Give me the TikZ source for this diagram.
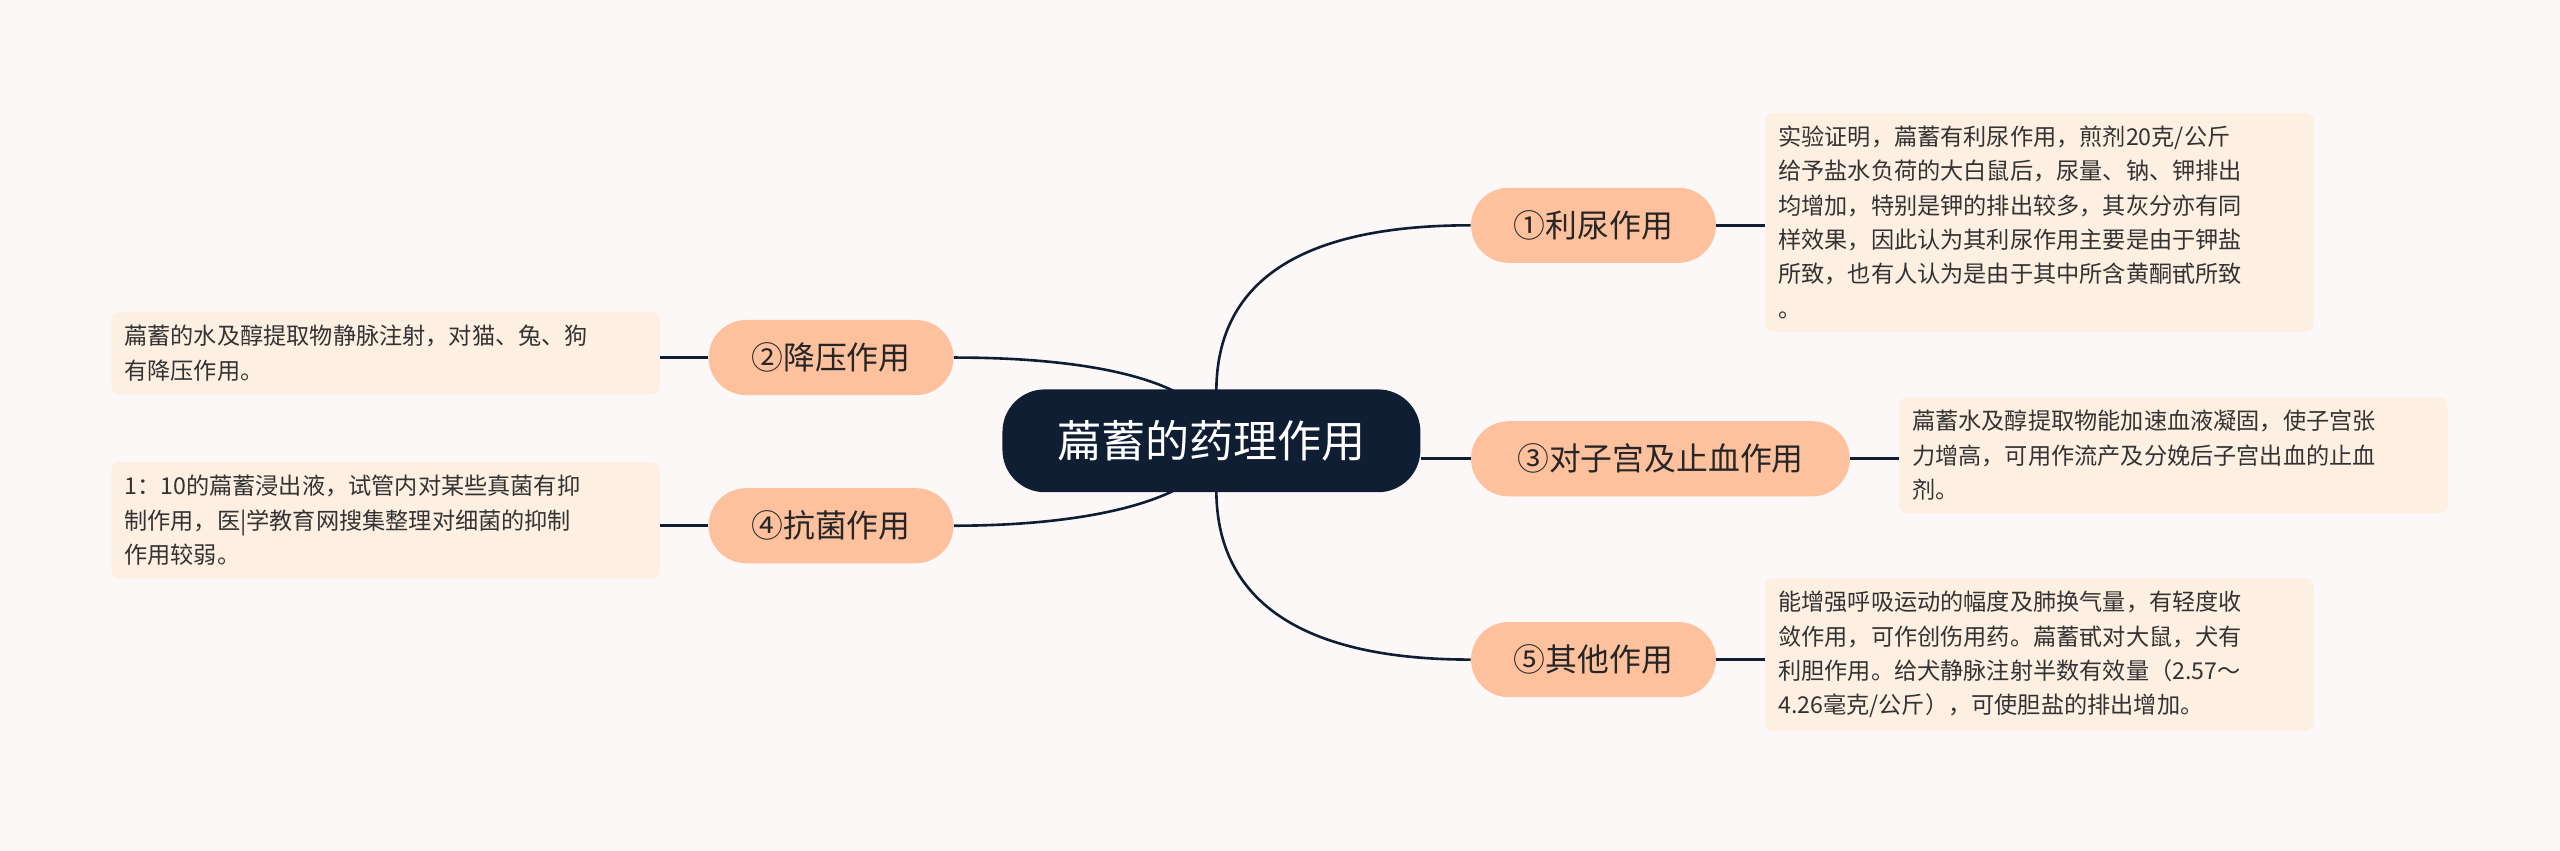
\documentclass[tikz,border=0pt]{standalone}
\usepackage{fontspec}
\setmainfont{Noto Sans CJK SC}
\begin{document}
\begin{tikzpicture}[x=1pt,y=-1pt,
  br/.style={fill=peach,rounded corners=23pt,minimum height=46pt,font=\fontsize{19.5}{22}\selectfont,text=black!85,inner xsep=8pt},
  leaf/.style={fill=leafc,rounded corners=5pt,anchor=north west,align=left,inner sep=8pt,font=\fontsize{14.2}{21}\selectfont,text=black!80},
  con/.style={draw=navy,line width=1.6pt}]
\definecolor{bg}{HTML}{FCF8F7}
\definecolor{navy}{HTML}{0F1E33}
\definecolor{peach}{HTML}{FDC19E}
\definecolor{leafc}{HTML}{FDF0E2}
\fill[bg] (0,0) rectangle (1568,521);
\node[fill=navy,rounded corners=26pt,minimum width=256pt,minimum height=63pt,text=white,font=\fontsize{27}{30}\selectfont] (c) at (742,270) {萹蓄的药理作用};
\node[br,minimum width=150pt] (b1) at (976,138) {①利尿作用};
\node[br,minimum width=150pt] (b2) at (509,219) {②降压作用};
\node[br,minimum width=232pt] (b3) at (1017,281) {③对子宫及止血作用};
\node[br,minimum width=150pt] (b4) at (509,322) {④抗菌作用};
\node[br,minimum width=150pt] (b5) at (976,404) {⑤其他作用};
\node[leaf,text width=320pt] (l1) at (1081,69) {实验证明，萹蓄有利尿作用，煎剂20克/公斤\\给予盐水负荷的大白鼠后，尿量、钠、钾排出\\均增加，特别是钾的排出较多，其灰分亦有同\\样效果，因此认为其利尿作用主要是由于钾盐\\所致，也有人认为是由于其中所含黄酮甙所致\\。};
\node[leaf,text width=320pt] (l2) at (68,191) {萹蓄的水及醇提取物静脉注射，对猫、兔、狗\\有降压作用。};
\node[leaf,text width=320pt] (l3) at (1163,243) {萹蓄水及醇提取物能加速血液凝固，使子宫张\\力增高，可用作流产及分娩后子宫出血的止血\\剂。};
\node[leaf,text width=320pt] (l4) at (68,283) {1：10的萹蓄浸出液，试管内对某些真菌有抑\\制作用，医|学教育网搜集整理对细菌的抑制\\作用较弱。};
\node[leaf,text width=320pt] (l5) at (1081,354) {能增强呼吸运动的幅度及肺换气量，有轻度收\\敛作用，可作创伤用药。萹蓄甙对大鼠，犬有\\利胆作用。给犬静脉注射半数有效量（2.57～\\4.26毫克/公斤），可使胆盐的排出增加。};
\coordinate (cr) at (745,240);
\coordinate (cr2) at (745,300);
\coordinate (cl) at (720,240);
\coordinate (cl2) at (720,300);
\draw[con] (cr) .. controls (745,170) and (800,138) .. (b1.west);
\draw[con] (c.east|-b3.west) -- (b3.west);
\draw[con] (cr2) .. controls (745,370) and (800,404) .. (b5.west);
\draw[con] (cl) .. controls (690,225) and (640,219) .. (b2.east);
\draw[con] (cl2) .. controls (690,315) and (640,322) .. (b4.east);
\draw[con] (b1.east) -- (l1.west|-b1.east);
\draw[con] (b3.east) -- (l3.west|-b3.east);
\draw[con] (b5.east) -- (l5.west|-b5.east);
\draw[con] (b2.west) -- (l2.east|-b2.west);
\draw[con] (b4.west) -- (l4.east|-b4.west);
\end{tikzpicture}
\end{document}
